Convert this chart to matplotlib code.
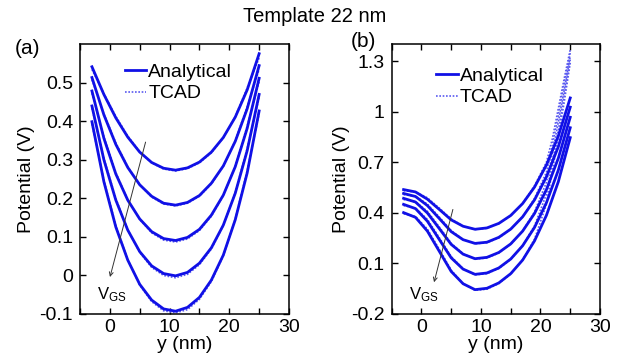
import matplotlib
matplotlib.use("Agg")
import matplotlib.pyplot as plt
from matplotlib.lines import Line2D

plt.rcParams['font.family'] = ['Liberation Sans', 'DejaVu Sans']
plt.rcParams['mathtext.fontset'] = 'custom'
plt.rcParams['mathtext.rm'] = 'Liberation Sans'

# ---------------- data ----------------
x_pos = [-3, -1, 1, 3, 5, 7, 9, 11, 13, 15, 17, 19, 21, 23, 25]

# Panel (a): analytical
a_analytical = [
    [0.542, 0.470, 0.409, 0.359, 0.320, 0.293, 0.278, 0.273, 0.279, 0.294, 0.320, 0.358, 0.411, 0.482, 0.576],
    [0.514, 0.417, 0.340, 0.280, 0.235, 0.205, 0.187, 0.182, 0.189, 0.207, 0.239, 0.284, 0.348, 0.433, 0.545],
    [0.479, 0.356, 0.263, 0.195, 0.146, 0.113, 0.095, 0.090, 0.098, 0.119, 0.156, 0.208, 0.282, 0.382, 0.512],
    [0.440, 0.300, 0.195, 0.117, 0.061, 0.024, 0.004, -0.002, 0.007, 0.031, 0.071, 0.130, 0.213, 0.324, 0.470],
    [0.399, 0.243, 0.125, 0.039, -0.024, -0.065, -0.088, -0.094, -0.084, -0.058, -0.013, 0.052, 0.144, 0.266, 0.427],
]
# Panel (a): TCAD
a_tcad = [
    [0.535, 0.472, 0.413, 0.362, 0.321, 0.292, 0.276, 0.271, 0.277, 0.292, 0.318, 0.357, 0.413, 0.487, 0.565],
    [0.508, 0.420, 0.344, 0.282, 0.235, 0.203, 0.185, 0.180, 0.187, 0.205, 0.237, 0.283, 0.350, 0.438, 0.535],
    [0.473, 0.360, 0.267, 0.196, 0.145, 0.110, 0.091, 0.086, 0.094, 0.116, 0.153, 0.207, 0.284, 0.388, 0.503],
    [0.434, 0.304, 0.199, 0.118, 0.059, 0.020, -0.001, -0.007, 0.002, 0.027, 0.068, 0.129, 0.215, 0.330, 0.462],
    [0.393, 0.247, 0.129, 0.040, -0.026, -0.069, -0.093, -0.098, -0.090, -0.063, -0.017, 0.050, 0.146, 0.272, 0.420],
]

# Panel (b): analytical
b_analytical = [
    [0.537, 0.523, 0.480, 0.419, 0.357, 0.319, 0.301, 0.309, 0.336, 0.383, 0.454, 0.552, 0.683, 0.856, 1.082],
    [0.514, 0.496, 0.442, 0.365, 0.287, 0.239, 0.217, 0.224, 0.253, 0.302, 0.375, 0.476, 0.613, 0.792, 1.027],
    [0.485, 0.463, 0.398, 0.305, 0.211, 0.153, 0.126, 0.134, 0.163, 0.214, 0.290, 0.395, 0.537, 0.724, 0.967],
    [0.449, 0.424, 0.349, 0.240, 0.131, 0.064, 0.033, 0.041, 0.071, 0.124, 0.203, 0.312, 0.459, 0.653, 0.905],
    [0.400, 0.372, 0.290, 0.170, 0.050, -0.023, -0.058, -0.050, -0.018, 0.037, 0.118, 0.232, 0.384, 0.584, 0.846],
]
# Panel (b): TCAD
x_pos_b_tcad = [-3, -1, 1, 3, 5, 7, 9, 11, 13, 15, 17, 19, 21, 22, 23, 24, 25]
b_tcad = [
    [0.530, 0.523, 0.488, 0.427, 0.362, 0.320, 0.300, 0.307, 0.334, 0.382, 0.455, 0.560, 0.700, 0.84, 1.02, 1.20, 1.37],
    [0.507, 0.497, 0.451, 0.374, 0.293, 0.240, 0.215, 0.221, 0.250, 0.300, 0.375, 0.485, 0.640, 0.80, 0.98, 1.17, 1.35],
    [0.478, 0.465, 0.408, 0.315, 0.218, 0.155, 0.124, 0.130, 0.160, 0.212, 0.291, 0.405, 0.580, 0.75, 0.94, 1.13, 1.33],
    [0.442, 0.427, 0.360, 0.251, 0.139, 0.066, 0.030, 0.037, 0.068, 0.122, 0.205, 0.322, 0.510, 0.70, 0.89, 1.10, 1.31],
    [0.393, 0.377, 0.302, 0.182, 0.058, -0.022, -0.062, -0.055, -0.022, 0.035, 0.120, 0.242, 0.450, 0.65, 0.85, 1.06, 1.29],
]

x_major = [0, 10, 20, 30]
x_minor = [-5, 5, 15, 25]
a_yticks = [-0.1, 0, 0.1, 0.2, 0.3, 0.4, 0.5]
a_yticklabels = ['-0.1', '0', '0.1', '0.2', '0.3', '0.4', '0.5']
b_yticks = [-0.2, 0.1, 0.4, 0.7, 1.0, 1.3]
b_yticklabels = ['-0.2', '0.1', '0.4', '0.7', '1', '1.3']

legend_labels = ['Analytical', 'TCAD']
title = 'Template 22 nm'

# ---------------- style ----------------
solid_color = '#1010e6'
dot_color = '#5a5af0'
FS = 14

fig = plt.figure(figsize=(6.25, 3.64), dpi=100)
axa = fig.add_axes([0.128, 0.1387, 0.3344, 0.7391])
axb = fig.add_axes([0.6267, 0.1387, 0.3333, 0.7391])


def style_axes(ax, yticks, ylabels, ylim, ylabelpad):
    ax.set_xlim(-5, 30)
    ax.set_ylim(*ylim)
    ax.set_xticks(x_major)
    ax.set_xticklabels([str(v) for v in x_major])
    ax.set_xticks(x_minor, minor=True)
    ax.set_yticks(yticks)
    ax.set_yticklabels(ylabels)
    ax.tick_params(which='both', direction='in', top=True, right=True,
                   length=4, width=1, labelsize=FS)
    ax.tick_params(axis='x', which='both', pad=4)
    ax.tick_params(axis='y', which='both', pad=5)
    for s in ax.spines.values():
        s.set_linewidth(1.1)
    ax.set_xlabel('y (nm)', fontsize=FS, labelpad=0)
    ax.set_ylabel('Potential (V)', fontsize=FS, labelpad=ylabelpad)


for ys in a_tcad:
    axa.plot(x_pos, ys, color=dot_color, lw=1.2, ls=(0, (1, 1)))
for ys in a_analytical:
    axa.plot(x_pos, ys, color=solid_color, lw=2.0)
style_axes(axa, a_yticks, a_yticklabels, (-0.1, 0.6), 3)

for ys in b_tcad:
    axb.plot(x_pos_b_tcad, ys, color=dot_color, lw=1.2, ls=(0, (1, 1)))
for ys in b_analytical:
    axb.plot(x_pos, ys, color=solid_color, lw=2.0)
style_axes(axb, b_yticks, b_yticklabels, (-0.2, 1.4), 1)

handles = [Line2D([], [], color=solid_color, lw=2.0),
           Line2D([], [], color=dot_color, lw=1.2, ls=(0, (1, 1)))]
for ax, anchor in ((axa, (0.215, 0.93)), (axb, (0.215, 0.915))):
    ax.legend(handles, legend_labels, loc='upper left', bbox_to_anchor=anchor,
              frameon=False, fontsize=FS, handlelength=1.1, handletextpad=0.1,
              borderpad=0, borderaxespad=0, labelspacing=0.2)

# V_GS arrows
axa.annotate('', xy=(-0.1, -0.012), xytext=(6.1, 0.353),
             arrowprops=dict(arrowstyle='->', color='#333333', lw=0.7, mutation_scale=7))
axa.text(0.3, -0.052, r'$\mathregular{V_{GS}}$', fontsize=12, ha='center', va='center')
axb.annotate('', xy=(2.0, -0.03), xytext=(5.4, 0.435),
             arrowprops=dict(arrowstyle='->', color='#333333', lw=0.7, mutation_scale=7))
axb.text(0.4, -0.085, r'$\mathregular{V_{GS}}$', fontsize=12, ha='center', va='center')

fig.text(0.504, 0.956, title, fontsize=14.5, ha='center', va='center')
fig.text(0.044, 0.868, '(a)', fontsize=15, ha='center', va='center')
fig.text(0.581, 0.887, '(b)', fontsize=15, ha='center', va='center')

fig.savefig('out.png', dpi=100)
